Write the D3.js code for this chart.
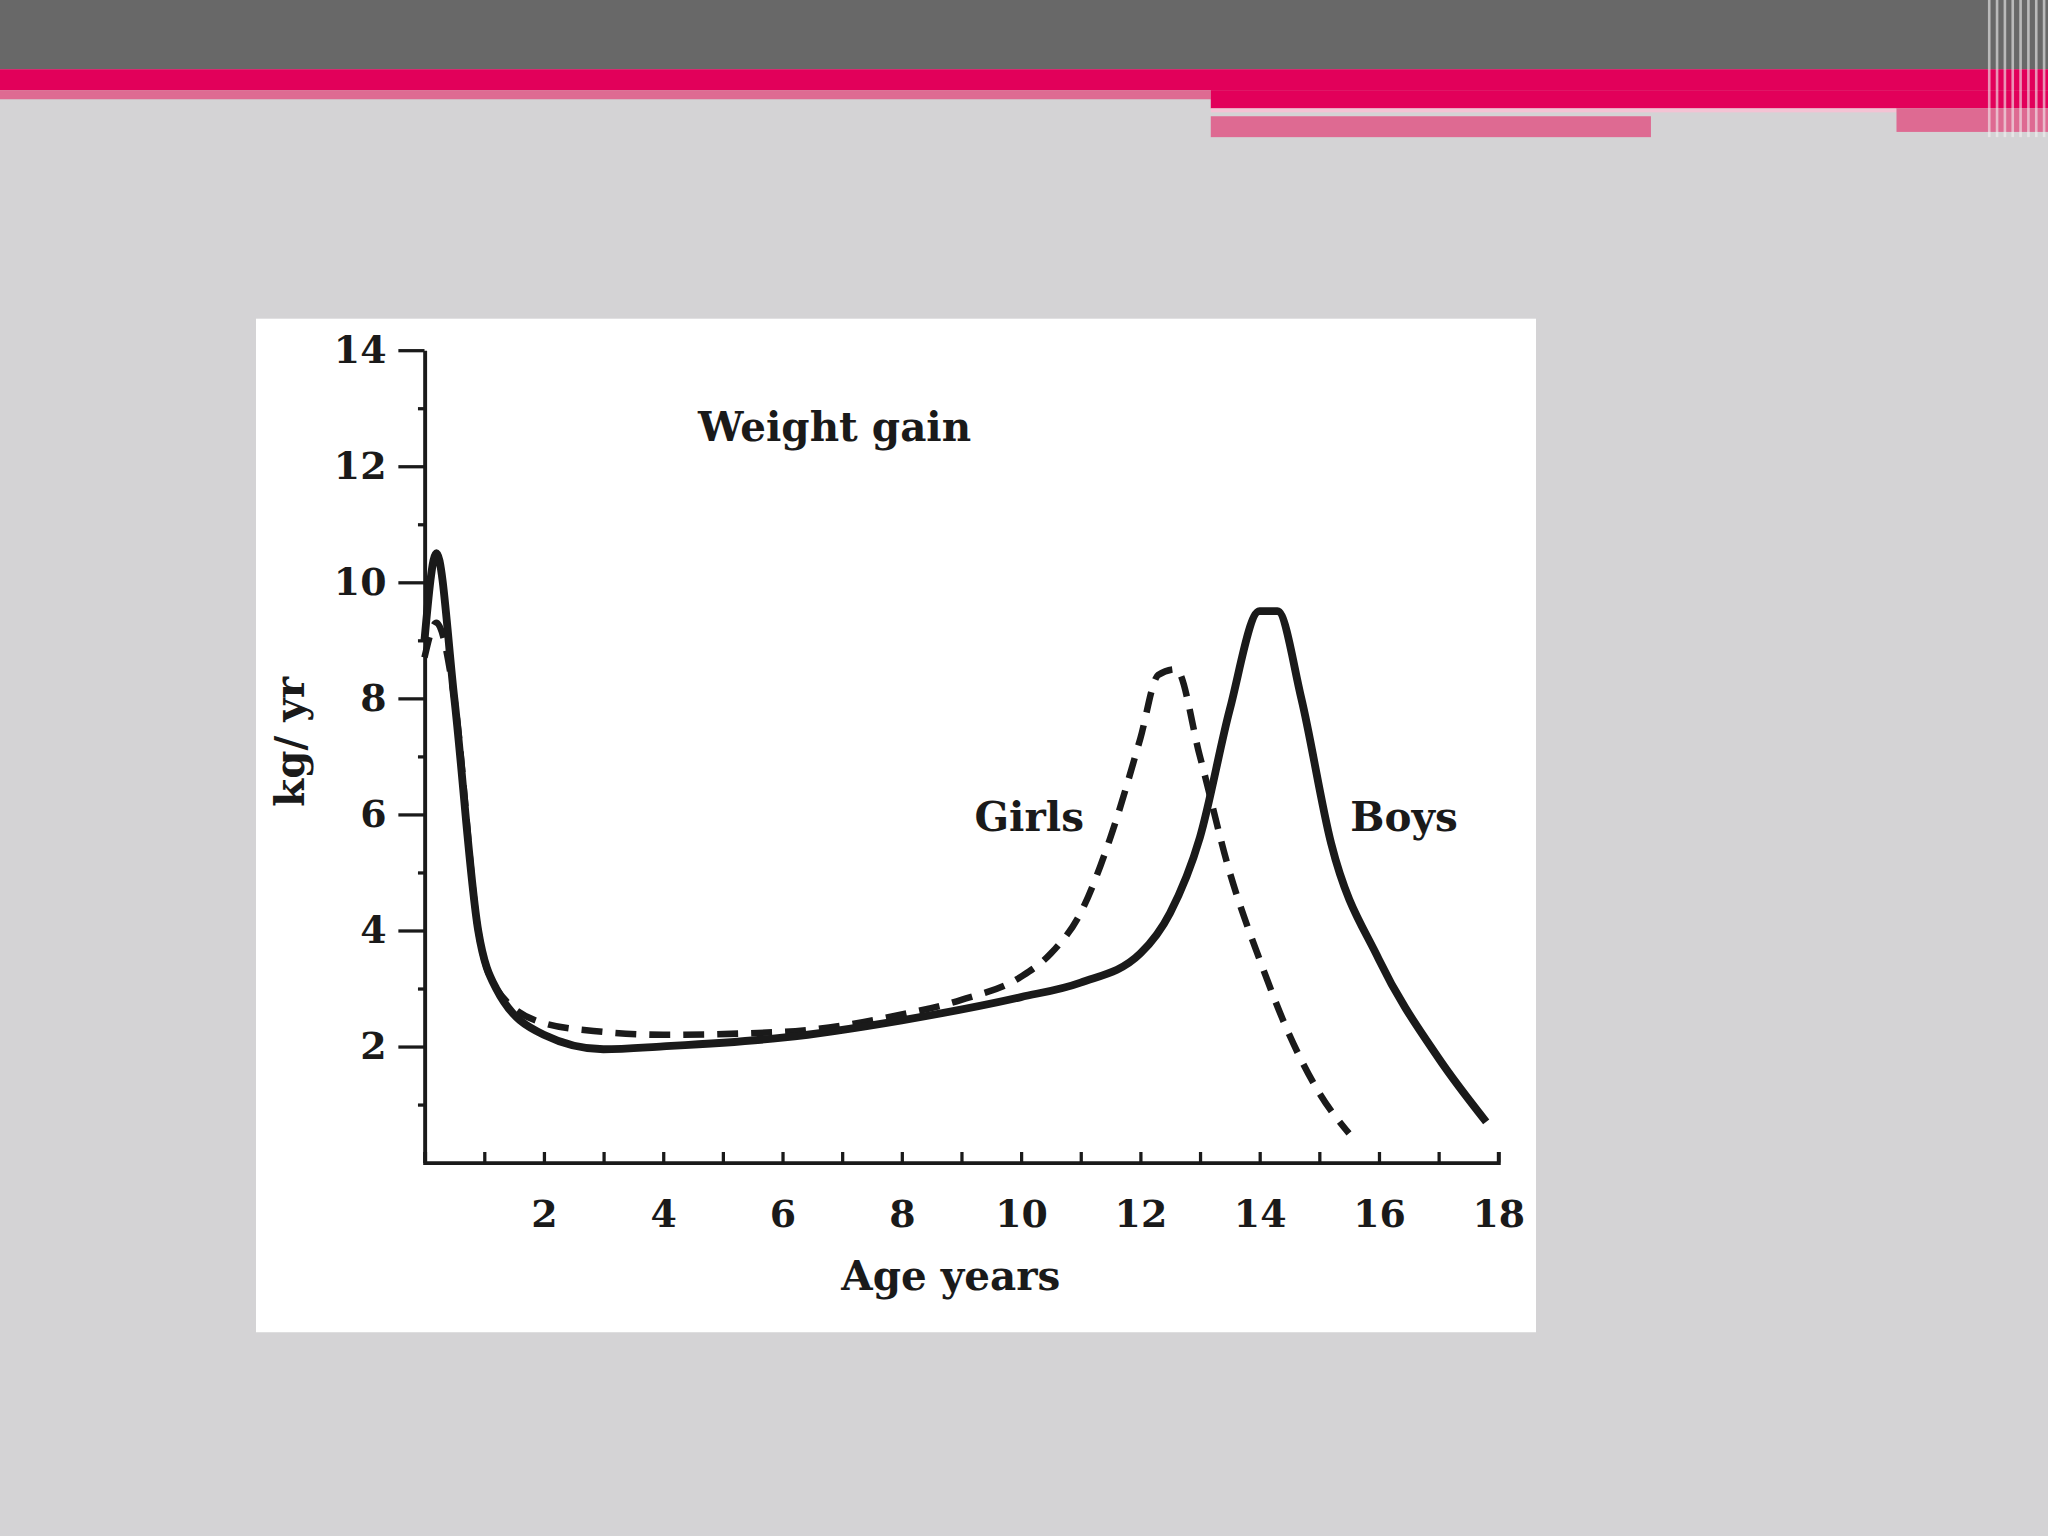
<!DOCTYPE html>
<html><head><meta charset="utf-8">
<script src="https://cdn.jsdelivr.net/npm/d3@7"></script>
<style>body{margin:0;background:#d4d3d5;}svg{display:block;}</style>
</head><body>
<script>
// age (years) vs weight gain (kg/yr)
const boysAge  = [0, 0.2, 0.5, 0.9, 1.2, 2, 3, 4, 6, 8, 10, 11, 12, 12.5, 13, 13.5, 14, 14.3, 14.7, 15.2, 16, 17, 17.8];
const boysGain = [9, 10.5, 8, 4, 3, 2.2, 1.95, 2, 2.15, 2.45, 2.85, 3.1, 3.6, 4.3, 5.6, 7.8, 9.5, 9.5, 8, 5.5, 3.5, 1.8, 0.7];
const girlsAge  = [0, 0.2, 0.5, 0.9, 1.2, 2, 3, 4, 6, 8, 9, 10, 10.5, 11, 11.5, 12, 12.3, 12.6, 13, 13.5, 14, 14.5, 15, 15.5];
const girlsGain = [8.7, 9.3, 8, 4, 3, 2.4, 2.25, 2.2, 2.25, 2.55, 2.8, 3.2, 3.6, 4.3, 5.6, 7.3, 8.4, 8.5, 7, 5, 3.5, 2.2, 1.2, 0.5];
const xTicks = [2, 4, 6, 8, 10, 12, 14, 16, 18];
const yTicks = [2, 4, 6, 8, 10, 12, 14];

const svg = d3.select("body").append("svg")
  .attr("width", 2048).attr("height", 1536)
  .attr("viewBox", "0 0 1568 1176");

// slide header
svg.append("rect").attr("width", 1568).attr("height", 1176).attr("fill", "#d4d3d5");
svg.append("rect").attr("width", 1568).attr("height", 53).attr("fill", "#686868");
svg.append("rect").attr("y", 53).attr("width", 1568).attr("height", 16).attr("fill", "#e2005a");
svg.append("rect").attr("y", 69).attr("width", 927).attr("height", 7).attr("fill", "#de6a92");
svg.append("rect").attr("x", 927).attr("y", 69).attr("width", 641).attr("height", 14).attr("fill", "#e2005a");
svg.append("rect").attr("x", 927).attr("y", 83).attr("width", 525).attr("height", 3).attr("fill", "#f4c3d4");
svg.append("rect").attr("x", 1452).attr("y", 83).attr("width", 116).attr("height", 18).attr("fill", "#de6a92");
svg.append("rect").attr("x", 927).attr("y", 89).attr("width", 337).attr("height", 16).attr("fill", "#de6a92");
for (let i = 0; i < 8; i++) {
  svg.append("rect").attr("x", 1522 + i * 6).attr("y", 0).attr("width", 2).attr("height", 105)
    .attr("fill", "#f2f2f2").attr("opacity", 0.6);
}

// white picture panel
svg.append("rect").attr("x", 196).attr("y", 244).attr("width", 980).attr("height", 776).attr("fill", "#fff");

const x = d3.scaleLinear().domain([0, 18]).range([325, 1147]);
const y = d3.scaleLinear().domain([0, 14]).range([890, 268]);
const font = "'DejaVu Serif', 'Liberation Serif', serif";
const ink = "#1a1a1a";

const xAxis = svg.append("g").attr("transform", `translate(0,${y(0)})`)
  .call(d3.axisBottom(x).tickValues(d3.range(1, 19)).tickSize(-8).tickFormat(d => xTicks.includes(d) ? d : ""));
const yAxis = svg.append("g").attr("transform", `translate(${x(0)},0)`)
  .call(d3.axisLeft(y).tickValues(d3.range(1, 15)).tickSize(0).tickFormat(d => yTicks.includes(d) ? d : ""));
yAxis.selectAll(".tick line").attr("x2", d => yTicks.includes(d) ? -20 : -5);
[xAxis, yAxis].forEach(a => {
  a.select(".domain").attr("stroke", ink).attr("stroke-width", 3);
  a.selectAll(".tick line").attr("stroke", ink).attr("stroke-width", 2.5);
  a.selectAll("text").attr("font-family", font).attr("font-size", 29).attr("font-weight", "bold").attr("fill", ink);
});
xAxis.selectAll("text").attr("dy", "1.6em");
yAxis.selectAll("text").attr("dx", "-0.9em");

const line = d3.line().curve(d3.curveMonotoneX).x(d => x(d[0])).y(d => y(d[1]));
svg.append("path").datum(d3.zip(girlsAge, girlsGain)).attr("d", line)
  .attr("fill", "none").attr("stroke", ink).attr("stroke-width", 5).attr("stroke-dasharray", "16,10");
svg.append("path").datum(d3.zip(boysAge, boysGain)).attr("d", line)
  .attr("fill", "none").attr("stroke", ink).attr("stroke-width", 6);

const label = (t, px, py, extra) => svg.append("text").attr("x", px).attr("y", py).text(t)
  .attr("font-family", font).attr("font-size", 31).attr("font-weight", "bold").attr("fill", ink)
  .attr("text-anchor", "middle").attr("transform", extra || null);
label("Weight gain", 639, 338);
label("Girls", 788, 636);
label("Boys", 1075, 636);
label("Age years", 728, 988);
svg.append("text").attr("transform", "translate(233,568) rotate(-90)").text("kg/ yr")
  .attr("font-family", font).attr("font-size", 31).attr("font-weight", "bold").attr("fill", ink)
  .attr("text-anchor", "middle");
</script>
</body></html>
